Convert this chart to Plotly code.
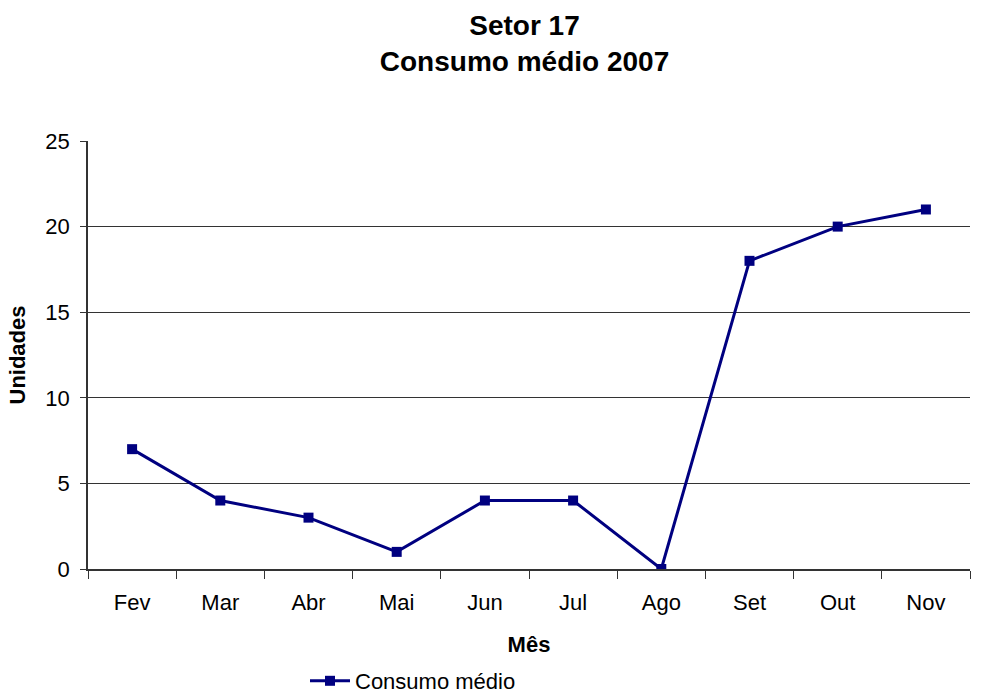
import plotly.graph_objects as go

meses = ["Fev", "Mar", "Abr", "Mai", "Jun", "Jul", "Ago", "Set", "Out", "Nov"]
consumo = [7, 4, 3, 1, 4, 4, 0, 18, 20, 21]
y_ticks = [0, 5, 10, 15, 20, 25]

FONT = "Liberation Sans, Arial, sans-serif"
W, H = 1007, 699

fig = go.Figure()
fig.add_trace(go.Scatter(
    x=meses, y=consumo, mode="lines+markers", name="Consumo médio",
    line=dict(color="#000080", width=3),
    marker=dict(symbol="square", size=10, color="#000080"),
))

fig.update_layout(
    width=W, height=H,
    paper_bgcolor="white", plot_bgcolor="white",
    margin=dict(l=88, r=37, t=141, b=130, autoexpand=False),
    font=dict(family=FONT, size=22, color="black"),
    title=dict(text="<b>Setor 17<br>Consumo médio 2007</b>", x=524.5 / W, xanchor="center",
               y=1 - 35 / H, yanchor="top", font=dict(size=28, family=FONT)),
    showlegend=True,
    legend=dict(orientation="h", xref="container", yref="container",
                x=305 / W, xanchor="left", y=1 - 681 / H, yanchor="middle",
                font=dict(size=22, family=FONT), itemwidth=40),
)
fig.update_xaxes(
    type="category", range=[-0.5, 9.5], tickson="boundaries", automargin=False,
    ticks="outside", ticklen=8, tickcolor="#333", tickwidth=1,
    showline=True, linecolor="#333", linewidth=1.5, showgrid=False,
    title=dict(text="<b>Mês</b>", font=dict(size=22), standoff=22),
    tickfont=dict(size=22), ticklabelstandoff=13,
)
fig.update_yaxes(
    range=[0, 25], tickvals=y_ticks, automargin=False,
    ticks="outside", ticklen=6, tickcolor="#333",
    showline=True, linecolor="#333", linewidth=1.5,
    showgrid=True, gridcolor="#333", gridwidth=1, zeroline=False,
    title=dict(text="<b>Unidades</b>", font=dict(size=22), standoff=14),
    tickfont=dict(size=22), ticklabelstandoff=6,
)

fig.write_html(
    "out.html",
    config={"displayModeBar": False},
    post_script="document.body.style.margin='0';document.body.style.overflow='hidden';",
)
